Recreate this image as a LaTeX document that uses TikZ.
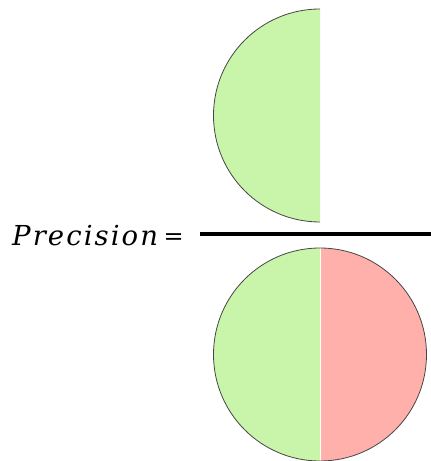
\documentclass[tikz,border=0pt]{standalone}
\usepackage{fontspec}
\newfontfamily\lblfont[LetterSpace=7.5]{DejaVu Serif}
\newfontfamily\eqfont{DejaVu Serif}
\definecolor{tpgreen}{RGB}{200,245,170}
\definecolor{fpred}{RGB}{255,176,170}
\definecolor{edge}{RGB}{70,70,70}
\begin{document}
\begin{tikzpicture}[x=1pt,y=1pt,
  outline/.style={draw=edge,line width=0.8pt},
  lbl/.style={inner sep=0pt,font=\lblfont\itshape\fontsize{27.5}{32}\selectfont}]
\useasboundingbox (0,0) rectangle (431,461);
% top half disc (numerator)
\coordinate (tc) at (320,345.5);
\fill[tpgreen] (320,452) arc[start angle=90,end angle=270,radius=106.5] -- cycle;
\draw[outline] (320,452) arc[start angle=90,end angle=270,radius=106.5];
% bottom full disc (denominator)
\coordinate (bc) at (320,106.5);
\fill[tpgreen] (320,213) arc[start angle=90,end angle=270,radius=106.5] -- cycle;
\fill[fpred] (320,213) arc[start angle=90,end angle=-90,radius=106.5] -- cycle;
\draw[white,line width=0.8pt] (320,213) -- (320,0);
\draw[outline] (bc) circle[radius=106.5];
% label and fraction bar
\node[lbl,anchor=base west] (label) at (12,215) {Precision};
\node[inner sep=0pt,font=\eqfont\fontsize{24}{28}\selectfont] (eq) at (173.7,222) {=};
\coordinate (barL) at (200,226.5);
\coordinate (barR) at (431,226.5);
\draw[line width=4pt] (barL) -- (barR);
\end{tikzpicture}
\end{document}
